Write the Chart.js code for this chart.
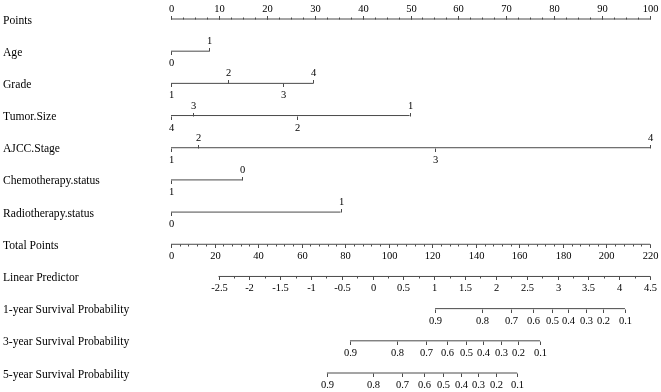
<!DOCTYPE html>
<html>
<head>
<meta charset="utf-8">
<script src="https://cdn.jsdelivr.net/npm/chart.js@4/dist/chart.umd.min.js"></script>
<style>
    html, body { margin: 0; padding: 0; background: #fff; }
    #wrap { width: 661px; height: 392px; }
</style>
</head>
<body>
<div id="wrap"><canvas id="nomogram" width="661" height="392"></canvas></div>
<script>
    'use strict';

    // row titles, top to bottom
    var rowNames = ['Points', 'Age', 'Grade', 'Tumor.Size', 'AJCC.Stage',
        'Chemotherapy.status', 'Radiotherapy.status', 'Total Points',
        'Linear Predictor', '1-year Survival Probability',
        '3-year Survival Probability', '5-year Survival Probability'];

    // points scale
    var pointsTicks = [0, 10, 20, 30, 40, 50, 60, 70, 80, 90, 100];
    var pointsMinor = 2.5;

    // predictors: level labels and the points they carry
    var ageLevels = ['0', '1'];
    var agePoints = [0, 8.0];
    var gradeLevels = ['1', '2', '3', '4'];
    var gradePoints = [0, 11.8, 23.3, 29.7];
    var tumorLevels = ['4', '3', '2', '1'];
    var tumorPoints = [0, 4.5, 26.4, 49.8];
    var ajccLevels = ['1', '2', '3', '4'];
    var ajccPoints = [0, 5.7, 55.2, 100];
    var chemoLevels = ['1', '0'];
    var chemoPoints = [0, 14.9];
    var radioLevels = ['0', '1'];
    var radioPoints = [0, 35.4];

    // total points scale
    var totalTicks = [0, 20, 40, 60, 80, 100, 120, 140, 160, 180, 200, 220];
    var totalMinor = 4;

    // linear predictor scale
    var lpTicks = [-2.5, -2, -1.5, -1, -0.5, 0, 0.5, 1, 1.5, 2, 2.5, 3, 3.5, 4, 4.5];
    var lpMinor = 0.25;
    var lpRange = [-3.271, 4.5];

    // survival probabilities, placed on the total points scale
    var survLabels = ['0.9', '0.8', '0.7', '0.6', '0.5', '0.4', '0.3', '0.2', '0.1'];
    var surv1Total = [121.3, 143.0, 156.2, 166.1, 174.8, 182.5, 190.5, 198.6, 208.5];
    var surv3Total = [82.2, 103.7, 117.0, 126.9, 135.5, 143.2, 151.4, 159.5, 169.5];
    var surv5Total = [71.6, 92.9, 106.2, 116.3, 125.1, 133.0, 140.9, 149.1, 159.0];

    var LINE = '#4a4a4a',
        TEXT = '#000',
        SERIF = '"Liberation Serif", "DejaVu Serif", serif';

    var range = function (from, to, step) {
            var out = [], v;
            for (v = from; v <= to + 1e-9; v += step) {
                out.push(+v.toFixed(4));
            }
            return out;
        },

        // levels alternate below / above the line, in order of position
        levelTicks = function (labels, values) {
            var order = values.map(function (v, i) { return i; })
                .sort(function (a, b) { return values[a] - values[b]; });

            return order.map(function (i, k) {
                return { v: values[i], label: labels[i], pos: k % 2 === 0 ? 'below' : 'above' };
            });
        },

        scaleTicks = function (values, pos, fmt) {
            return values.map(function (v, i) {
                return { v: v, label: fmt ? fmt(v, i) : String(v), pos: pos };
            });
        },

        buildRow = function (row, axis, ticks, minor) {
            var vals = ticks.map(function (t) { return t.v; }),
                lo = Math.min.apply(null, vals),
                hi = Math.max.apply(null, vals);

            return {
                data: [{ x: lo, y: row }, { x: hi, y: row }],
                xAxisID: axis,
                borderColor: LINE,
                borderWidth: 1,
                pointRadius: 0,
                clip: false,
                tickList: ticks,
                minorList: minor ? range(lo, hi, minor) : []
            };
        },

        buildDatasets = function () {
            return [
                buildRow(0, 'x', scaleTicks(pointsTicks, 'above'), pointsMinor),
                buildRow(1, 'x', levelTicks(ageLevels, agePoints)),
                buildRow(2, 'x', levelTicks(gradeLevels, gradePoints)),
                buildRow(3, 'x', levelTicks(tumorLevels, tumorPoints)),
                buildRow(4, 'x', levelTicks(ajccLevels, ajccPoints)),
                buildRow(5, 'x', levelTicks(chemoLevels, chemoPoints)),
                buildRow(6, 'x', levelTicks(radioLevels, radioPoints)),
                buildRow(7, 'xTotal', scaleTicks(totalTicks, 'below'), totalMinor),
                buildRow(8, 'xLp', scaleTicks(lpTicks, 'below'), lpMinor),
                buildRow(9, 'xTotal', scaleTicks(surv1Total, 'below', function (v, i) { return survLabels[i]; })),
                buildRow(10, 'xTotal', scaleTicks(surv3Total, 'below', function (v, i) { return survLabels[i]; })),
                buildRow(11, 'xTotal', scaleTicks(surv5Total, 'below', function (v, i) { return survLabels[i]; }))
            ];
        },

        nomogramPlugin = {
            id: 'nomogram',
            afterDatasetsDraw: function (chart) {
                var ctx = chart.ctx,
                    yScale = chart.scales.y;

                ctx.save();

                // row titles
                ctx.fillStyle = TEXT;
                ctx.font = '11.6px ' + SERIF;
                ctx.textAlign = 'left';
                ctx.textBaseline = 'middle';
                rowNames.forEach(function (name, i) {
                    ctx.fillText(name, 3, yScale.getPixelForValue(i) + 1.5);
                });

                chart.data.datasets.forEach(function (ds) {
                    var sc = chart.scales[ds.xAxisID],
                        y = Math.round(yScale.getPixelForValue(ds.data[0].y)) + 0.5,
                        dir = ds.tickList[0].pos === 'above' ? -1 : 1;

                    ctx.strokeStyle = LINE;
                    ctx.lineWidth = 1;

                    ds.minorList.forEach(function (v) {
                        var x = Math.round(sc.getPixelForValue(v)) + 0.5;
                        ctx.beginPath();
                        ctx.moveTo(x, y);
                        ctx.lineTo(x, y + dir * 2);
                        ctx.stroke();
                    });

                    ctx.font = '10.5px ' + SERIF;
                    ctx.textAlign = 'center';
                    ds.tickList.forEach(function (t) {
                        var x = Math.round(sc.getPixelForValue(t.v)) + 0.5,
                            d = t.pos === 'above' ? -1 : 1;

                        ctx.beginPath();
                        ctx.moveTo(x, y);
                        ctx.lineTo(x, y + d * 3.5);
                        ctx.stroke();

                        ctx.textBaseline = 'middle';
                        ctx.fillText(t.label, x, d < 0 ? y - 10 : y + 12);
                    });
                });

                ctx.restore();
            }
        },

        init = function () {
            var canvas = document.getElementById('nomogram');

            new Chart(canvas.getContext('2d'), {
                type: 'line',
                data: { datasets: buildDatasets() },
                options: {
                    responsive: false,
                    animation: false,
                    devicePixelRatio: 1,
                    layout: { padding: { left: 171, right: 11, top: 19, bottom: 19 } },
                    plugins: { legend: { display: false }, tooltip: { enabled: false } },
                    scales: {
                        x: { type: 'linear', min: 0, max: 100, display: false },
                        xTotal: { type: 'linear', axis: 'x', min: 0, max: 220, display: false },
                        xLp: { type: 'linear', axis: 'x', min: lpRange[0], max: lpRange[1], display: false },
                        y: { type: 'linear', min: 0, max: 11, reverse: true, display: false }
                    }
                },
                plugins: [nomogramPlugin]
            });
        };

    init();
</script>
</body>
</html>
